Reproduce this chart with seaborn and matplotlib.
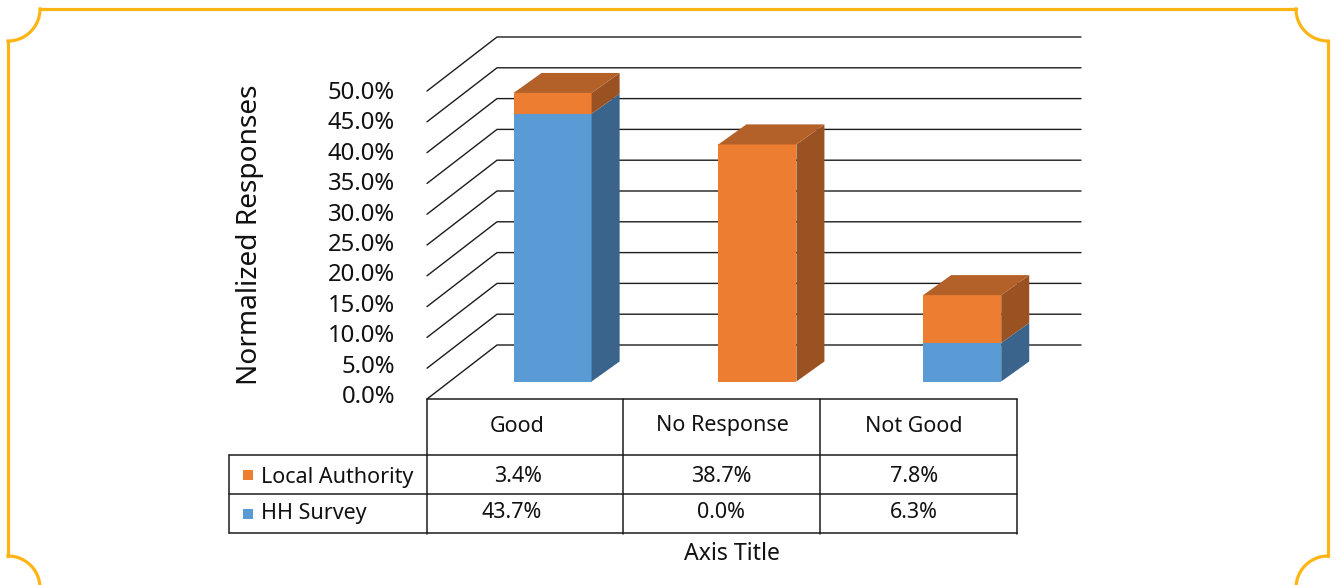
import numpy as np
import pandas as pd
import matplotlib
matplotlib.use("Agg")
import matplotlib.pyplot as plt
from matplotlib.patches import Polygon, Rectangle
import seaborn as sns

categories = ["Good", "No Response", "Not Good"]
hh_survey = [43.7, 0.0, 6.3]
local_authority = [3.4, 38.7, 7.8]
y_ticks = [0, 5, 10, 15, 20, 25, 30, 35, 40, 45, 50]

W, H = 1336, 585
FONT = "Noto Sans"
GOLD = "#FDB515"
ORANGE, ORANGE_SIDE, ORANGE_TOP = "#ED7D31", "#9A5223", "#B46029"
BLUE, BLUE_SIDE = "#5B9BD5", "#3A648C"
LINE = "#1c1c1c"
TEXT = "#111111"

sns.set_theme(style="white")
plt.rcParams["font.family"] = [FONT, "DejaVu Sans"]
plt.rcParams["text.color"] = TEXT
fig = plt.figure(figsize=(W / 100, H / 100), dpi=100, facecolor="white")


def axes_px(left, top, right, bottom, z=1):
    a = fig.add_axes([left / W, 1 - bottom / H, (right - left) / W, (bottom - top) / H], zorder=z)
    a.patch.set_alpha(0)
    return a


# Overlay in pixel coordinates: frame, table and texts
ov = axes_px(0, 0, W, H, z=0)
ov.set_xlim(0, W)
ov.set_ylim(H, 0)
ov.axis("off")

t = np.linspace(0, np.pi / 2, 40)
R = 32
L, Rt, T, B = 8, 1328, 9, 588
seg = [
    (L + R * np.sin(t), T + R * np.cos(t)),
    (Rt - R * np.cos(t), T + R * np.sin(t)),
    (L + R * np.cos(t), B - R * np.sin(t)),
    (Rt - R * np.cos(t), B - R * np.sin(t)),
    ([L + R, Rt - R], [T, T]),
    ([L, L], [T + R, B - R]),
    ([Rt, Rt], [T + R, B - R]),
]
for sx, sy in seg:
    ov.plot(sx, sy, color=GOLD, lw=2.3, solid_capstyle="projecting")

# Back wall with gridlines
wall_px_h = 6.16
depth_x, depth_y = 70, 54 / wall_px_h
wall = axes_px(427, 37, 1081, 399, z=1)
wall.set_xlim(0, 654)
wall.set_ylim(0, 50 + depth_y)
wall.axis("off")
for v in y_ticks:
    wall.plot([0, depth_x, 654], [v, v + depth_y, v + depth_y], color=LINE, lw=1.0, clip_on=False)

# Tick labels
lab = axes_px(395, 90, 396, 394, z=1)
lab.set_ylim(0, 50)
lab.set_xticks([])
lab.set_yticks(y_ticks)
lab.set_yticklabels([f"{v:.1f}%" for v in y_ticks], fontsize=17.2, color=TEXT)
lab.tick_params(axis="y", length=0, pad=0)
sns.despine(ax=lab, left=True, bottom=True)

# Bars
ax = axes_px(450.2, 75.2, 1064.6, 381.5, z=2)
df = pd.DataFrame({"cat": categories, "hh": hh_survey, "la": local_authority})
sns.barplot(data=df, x="cat", y="hh", order=categories, color=BLUE, saturation=1,
            width=0.381, errorbar=None, ax=ax, linewidth=0)
n_blue = len(ax.patches)
sns.barplot(data=df, x="cat", y="la", order=categories, color=ORANGE, saturation=1,
            width=0.381, errorbar=None, ax=ax, bottom=df["hh"].values, linewidth=0)
ax.set_xlim(-0.5, 2.5)
ax.set_ylim(0, 50)
ax.axis("off")

bar_dx, bar_dy = 28 / 204.75, 20 / 6.12
for i, p in enumerate(list(ax.patches)):
    h = p.get_height()
    if h <= 0:
        continue
    x0, w, y0 = p.get_x(), p.get_width(), p.get_y()
    x1, y1 = x0 + w, y0 + h
    is_blue = i < n_blue
    ax.add_patch(Polygon([(x1, y0), (x1 + bar_dx, y0 + bar_dy), (x1 + bar_dx, y1 + bar_dy), (x1, y1)],
                         closed=True, facecolor=BLUE_SIDE if is_blue else ORANGE_SIDE,
                         edgecolor="none", clip_on=False, zorder=2))
    if not is_blue:
        ax.add_patch(Polygon([(x0, y1), (x0 + bar_dx, y1 + bar_dy), (x1 + bar_dx, y1 + bar_dy), (x1, y1)],
                             closed=True, facecolor=ORANGE_TOP, edgecolor="none", clip_on=False, zorder=2))

# Table
col_x = [427, 623, 820, 1017]
row_y = [399, 454.5, 493.5, 532.5]
for x in col_x:
    ov.plot([x, x], [399, 534], color=LINE, lw=1.1)
ov.plot([427, 1017], [399, 399], color=LINE, lw=1.1)
for y in row_y[1:]:
    ov.plot([229, 1017], [y, y], color=LINE, lw=1.1)
ov.plot([229, 229], [454.5, 532.5], color=LINE, lw=1.1)

TS = 15.5
cat_cx = [517, 722, 914]
la_cx = [518, 721, 914]
hh_cx = [512, 721, 914]
for c, x in zip(categories, cat_cx):
    ov.text(x, 426, c, ha="center", va="center", fontsize=TS)
for v, x in zip(local_authority, la_cx):
    ov.text(x, 477, f"{v:.1f}%", ha="center", va="center", fontsize=TS)
for v, x in zip(hh_survey, hh_cx):
    ov.text(x, 513, f"{v:.1f}%", ha="center", va="center", fontsize=TS)
ov.add_patch(Rectangle((243, 470), 10, 10, facecolor=ORANGE, edgecolor="none"))
ov.add_patch(Rectangle((243, 509), 10, 10, facecolor=BLUE, edgecolor="none"))
ov.text(261, 477, "Local Authority", ha="left", va="center", fontsize=TS)
ov.text(261, 514, "HH Survey", ha="left", va="center", fontsize=TS)
ov.text(732, 554, "Axis Title", ha="center", va="center", fontsize=16.6)
ov.text(250, 235, "Normalized Responses", ha="center", va="center", rotation=90, fontsize=20.2)

fig.savefig("out.png", dpi=100)
